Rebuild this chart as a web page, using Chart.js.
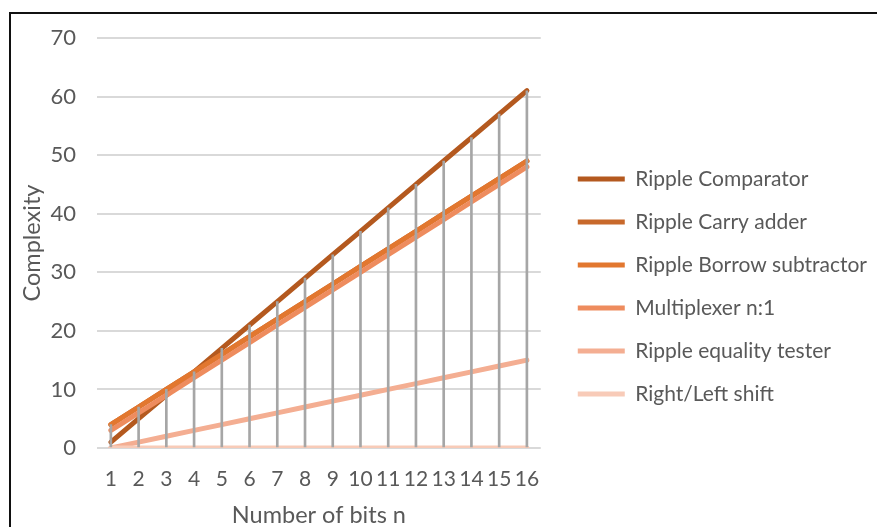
<!DOCTYPE html>
<html><head><meta charset="utf-8">
<script src="https://cdn.jsdelivr.net/npm/chart.js@4"></script>
<style>
html,body{margin:0;padding:0;background:#fff;}
#wrap{position:relative;width:877px;height:527px;overflow:hidden;}
#frame{position:absolute;left:9px;top:12px;width:1000px;height:1000px;border-left:2px solid #111;border-top:2px solid #111;box-sizing:border-box;}
canvas{position:absolute;left:0;top:0;}
</style></head><body>
<div id="wrap"><div id="frame"></div><canvas id="c" width="877" height="527"></canvas></div>
<script>
const categories = ['1','2','3','4','5','6','7','8','9','10','11','12','13','14','15','16'];
const seriesNames = ['Ripple Comparator','Ripple Carry adder','Ripple Borrow subtractor','Multiplexer n:1','Ripple equality tester','Right/Left shift'];
const rippleComparator       = [1,5,9,13,17,21,25,29,33,37,41,45,49,53,57,61];
const rippleCarryAdder       = [4,7,10,13,16,19,22,25,28,31,34,37,40,43,46,49];
const rippleBorrowSubtractor = [4,7,10,13,16,19,22,25,28,31,34,37,40,43,46,49];
const multiplexer            = [3,6,9,12,15,18,21,24,27,30,33,36,39,42,45,48];
const rippleEqualityTester   = [0,1,2,3,4,5,6,7,8,9,10,11,12,13,14,15];
const rightLeftShift         = [0,0,0,0,0,0,0,0,0,0,0,0,0,0,0,0];
const yTickMin = 0, yTickMax = 70, yTickStep = 10;

const seriesValues = [rippleComparator, rippleCarryAdder, rippleBorrowSubtractor, multiplexer, rippleEqualityTester, rightLeftShift];
const seriesColors = ['#B4591F','#C8692B','#E2772F','#EE8C5E','#F4AE92','#F8CBB8'];
// Excel drop lines: from the highest point of each category down to the axis
const dropLineTops = categories.map((c, i) => Math.max(...seriesValues.map(s => s[i])));

const FONT = 'Lato';
const TXT = '#595959';
const legendFontSize = 21;
const legendBox = 47;
const legendPad = 43 - legendFontSize;
const plotRight = 543;
const spacer = 580 - plotRight - legendPad;

function build() {
  const mctx = document.createElement('canvas').getContext('2d');
  mctx.font = legendFontSize + 'px ' + FONT;
  const maxText = Math.max(...seriesNames.map(n => mctx.measureText(n).width));
  const legendWidth = legendPad + legendBox + legendFontSize / 2 + maxText + 10;
  const rightPad = Math.max(0, 877 - plotRight - spacer - legendWidth);

  const datasets = seriesNames.map((name, i) => ({
    type: 'line',
    label: name,
    data: seriesValues[i],
    borderColor: seriesColors[i],
    backgroundColor: seriesColors[i],
    borderWidth: 5,
    borderCapStyle: 'round',
    borderJoinStyle: 'round',
    pointRadius: 0,
    pointHoverRadius: 0,
    tension: 0,
    fill: false,
    order: 6 - i + 1
  }));
  datasets.push({
    type: 'bar',
    label: '__drop',
    data: dropLineTops,
    backgroundColor: '#A6A6A6',
    borderWidth: 0,
    barThickness: 2,
    order: 0
  });

  new Chart(document.getElementById('c'), {
    type: 'line',
    data: { labels: categories, datasets },
    options: {
      responsive: false,
      animation: false,
      devicePixelRatio: 1,
      layout: { padding: { left: 0, right: rightPad, top: 38, bottom: 0 } },
      plugins: {
        tooltip: { enabled: false },
        legend: {
          position: 'right',
          align: 'center',
          maxWidth: 500,
          title: { display: true, text: '', font: { size: 5, family: FONT }, padding: { top: 2, bottom: 0 } },
          labels: {
            usePointStyle: true,
            pointStyle: 'line',
            pointStyleWidth: legendBox,
            padding: legendPad,
            color: TXT,
            font: { family: FONT, size: legendFontSize },
            filter: (item) => item.text !== '__drop',
            sort: (a, b) => a.datasetIndex - b.datasetIndex
          }
        }
      },
      scales: {
        x: {
          type: 'category',
          offset: true,
          grid: { display: false, drawTicks: false },
          border: { display: false },
          ticks: { color: TXT, font: { family: FONT, size: 21 }, padding: 19, maxRotation: 0, autoSkip: false },
          title: { display: true, text: 'Number of bits n', color: TXT, font: { family: FONT, size: 23.5 }, padding: { top: 0, bottom: -3 } },
          afterFit: (s) => { s.height = 79; }
        },
        y: {
          min: yTickMin, max: yTickMax,
          ticks: { stepSize: yTickStep, color: TXT, font: { family: FONT, size: 22 }, padding: 21 },
          grid: { color: '#D9D9D9', lineWidth: 2, drawTicks: false },
          border: { display: false },
          title: { display: true, text: 'Complexity', color: TXT, font: { family: FONT, size: 23.5 }, padding: { top: 18, bottom: 0 } },
          afterFit: (s) => { s.width = 97; }
        },
        spacer: {
          type: 'linear',
          position: 'right',
          display: true,
          grid: { display: false, drawTicks: false },
          border: { display: false },
          ticks: { display: false },
          afterFit: (s) => { s.width = spacer; }
        }
      }
    }
  });
}

Promise.all([
  document.fonts.load('21px Lato'),
  document.fonts.load('22px Lato'),
  document.fonts.load('23.5px Lato')
]).then(build, build);
</script>
</body></html>
